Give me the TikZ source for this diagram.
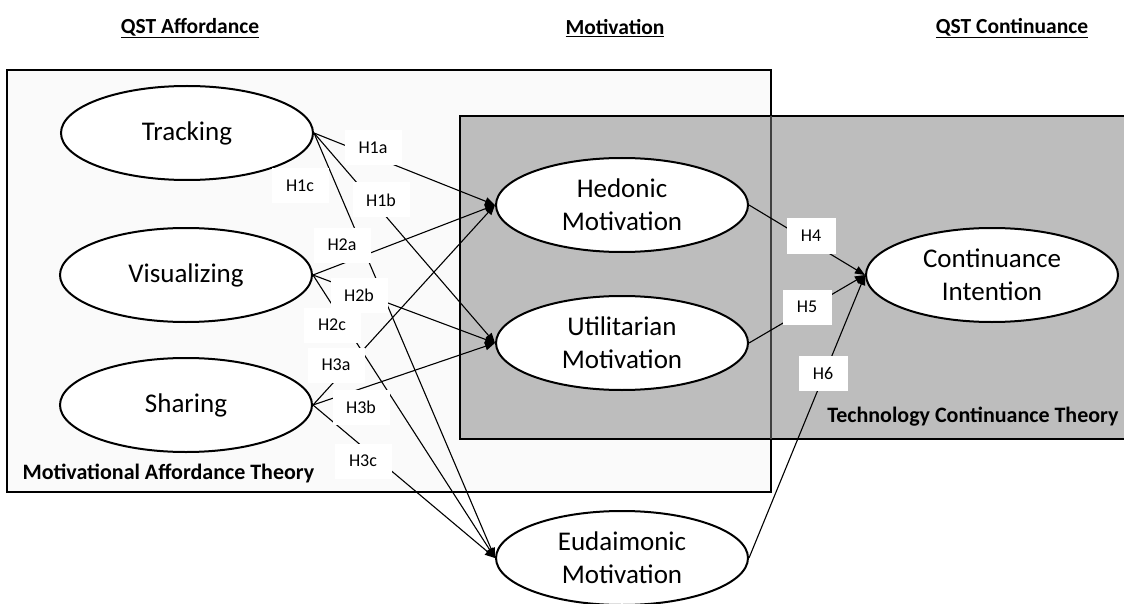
\documentclass[tikz,border=0pt]{standalone}
\usepackage{fontspec}
\setmainfont{Carlito}
\usetikzlibrary{shapes.geometric,arrows.meta}
\begin{document}
\begin{tikzpicture}[x=1pt,y=-1pt,
  ell/.style={draw, line width=2pt, fill=white, ellipse, inner sep=0pt,
    minimum width=252pt, minimum height=94pt, align=center,
    font=\fontsize{27}{33}\selectfont},
  hyp/.style={fill=white, inner sep=0pt, minimum width=57pt, minimum height=35pt,
    font=\fontsize{18}{20}\selectfont},
  arr/.style={-{Triangle[length=10pt,width=8pt]}, line width=1.1pt},
  ttl/.style={font=\fontsize{21.5}{24}\selectfont\bfseries},
  thy/.style={font=\fontsize{22}{24}\selectfont\bfseries}]
\useasboundingbox (0,0) rectangle (1124,604);
% boxes
\draw[line width=2.8pt, fill=black!2] (7,70) rectangle (771,492);
\fill[black!26] (460,116) rectangle (1124,439);
\draw[line width=1.3pt] (1124,116) -- (460,116) -- (460,439) -- (1124,439);
\draw[line width=1.6pt, black!75] (771,116) -- (771,439);
% titles
\node[ttl] (t1) at (190,28) {\underline{QST Affordance}};
\node[ttl] (t2) at (615,28) {\underline{Motivation}};
\node[ttl] (t3) at (1012,28) {\underline{QST Continuance}};
\node[thy, anchor=west] (mat) at (19,473) {Motivational Affordance Theory};
\node[thy, anchor=east] (tct) at (1122,417) {Technology Continuance Theory};
% ellipses
\node[ell] (tr) at (187,133) {Tracking};
\node[ell] (vi) at (186,275) {Visualizing};
\node[ell] (sh) at (186,405) {Sharing};
\node[ell] (he) at (622,205) {Hedonic\\Motivation};
\node[ell] (ut) at (622,343) {Utilitarian\\Motivation};
\node[ell] (eu) at (622,558) {Eudaimonic\\Motivation};
\node[ell] (ci) at (992,275) {Continuance\\Intention};
% connectors
\draw[arr] (tr.east) -- (he.west);
\draw[arr] (tr.east) -- (ut.west);
\draw[arr] (tr.east) -- (eu.west);
\draw[arr] (vi.east) -- (he.west);
\draw[arr] (vi.east) -- (ut.west);
\draw[arr] (vi.east) -- (eu.west);
\draw[arr] (sh.east) -- (he.west);
\draw[arr] (sh.east) -- (ut.west);
\draw[arr] (sh.east) -- (eu.west);
\draw[arr] (he.east) -- (ci.west);
\draw[arr] (ut.east) -- (ci.west);
\draw[arr] (eu.east) -- (ci.west);
% labels
\node[hyp] (h1a) at (373,148) {H1a};
\node[hyp] (h1c) at (300,186) {H1c};
\node[hyp] (h1b) at (381,200) {H1b};
\node[hyp] (h2a) at (342,245) {H2a};
\node[hyp] (h2b) at (359,295) {H2b};
\node[hyp] (h2c) at (332,325) {H2c};
\node[hyp] (h3a) at (336,365) {H3a};
\node[hyp] (h3b) at (361,407) {H3b};
\node[hyp] (h3c) at (363,461) {H3c};
\node[hyp, minimum width=49pt] (h4) at (811,236) {H4};
\node[hyp, minimum width=49pt] (h5) at (807,307) {H5};
\node[hyp, minimum width=49pt] (h6) at (823,373) {H6};
\end{tikzpicture}
\end{document}
